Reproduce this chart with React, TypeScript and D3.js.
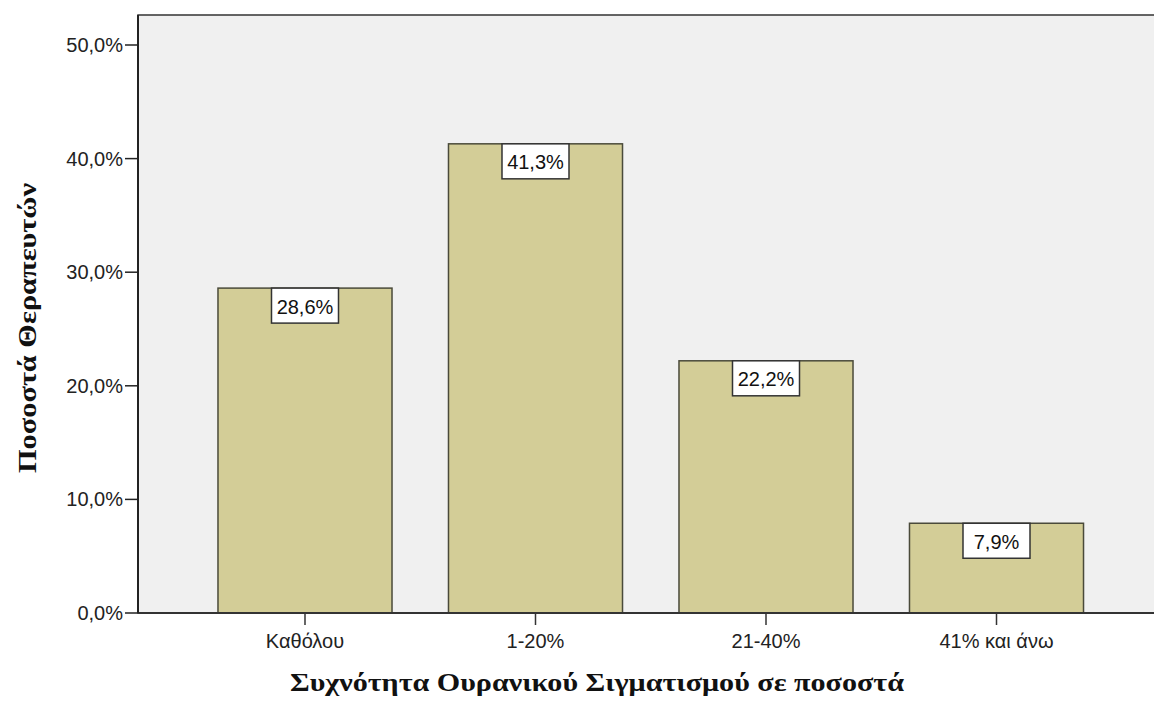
import React from "react";
import * as d3 from "d3";

const categories = ["Καθόλου", "1-20%", "21-40%", "41% και άνω"];
const percentValues = [28.6, 41.3, 22.2, 7.9];
const yTicks = [0, 10, 20, 30, 40, 50];
const xTitle = "Συχνότητα Ουρανικού Σιγματισμού σε ποσοστά";
const yTitle = "Ποσοστά Θεραπευτών";

const W = 1154;
const H = 701;
const plotLeft = 138;
const plotTop = 15;
const plotBottom = 613;
const plotRight = 1163.5;

const fmt = (v: number) => v.toFixed(1).replace(".", ",") + "%";

export default function App() {
  const x = d3
    .scaleBand<string>()
    .domain(categories)
    .range([plotLeft, plotRight])
    .paddingInner(0.245)
    .paddingOuter(0.347);
  const y = d3.scaleLinear().domain([0, 50]).range([plotBottom, 45]);
  const sans = "'Liberation Sans', Arial, sans-serif";
  const serif = "'Liberation Serif', 'Times New Roman', serif";
  const boxW = 67;
  const boxH = 35;

  return (
    <div style={{ position: "absolute", left: 0, top: 0 }}>
      <svg width={W} height={H} style={{ display: "block", background: "#fff" }}>
        <rect x={plotLeft} y={plotTop} width={W - plotLeft + 5} height={plotBottom - plotTop} fill="#f0f0f0" stroke="#333" strokeWidth={1.5} />
        {categories.map((c, i) => {
          const bx = x(c)!;
          const bw = x.bandwidth();
          const top = y(percentValues[i]);
          const cx = bx + bw / 2;
          return (
            <g key={c}>
              <rect x={bx} y={top} width={bw} height={plotBottom - top} fill="#d3cd97" stroke="#4a4a3a" strokeWidth={1.5} />
              <rect x={cx - boxW / 2} y={top} width={boxW} height={boxH} fill="#ffffff" stroke="#333" strokeWidth={1.5} />
              <text x={cx} y={top + 25.5} textAnchor="middle" fontFamily={sans} fontSize={20} fill="#111">
                {fmt(percentValues[i])}
              </text>
              <line x1={cx} x2={cx} y1={plotBottom} y2={plotBottom + 12} stroke="#333" strokeWidth={1.5} />
              <text x={cx} y={plotBottom + 35} textAnchor="middle" fontFamily={sans} fontSize={20} fill="#222">
                {c}
              </text>
            </g>
          );
        })}
        <line x1={plotLeft} x2={W} y1={plotBottom} y2={plotBottom} stroke="#333" strokeWidth={2} />
        <line x1={plotLeft} x2={plotLeft} y1={plotTop} y2={plotBottom} stroke="#222" strokeWidth={2} />
        {yTicks.map((t) => (
          <g key={t}>
            <line x1={plotLeft - 13} x2={plotLeft} y1={y(t)} y2={y(t)} stroke="#222" strokeWidth={1.5} />
            <text x={plotLeft - 15} y={y(t) + 7} textAnchor="end" fontFamily={sans} fontSize={20} fill="#222">
              {fmt(t)}
            </text>
          </g>
        ))}
        <text x={597} y={691} textAnchor="middle" fontFamily={serif} fontWeight="bold" fontSize={26} fill="#111" textLength={614} lengthAdjust="spacingAndGlyphs">
          {xTitle}
        </text>
        <text transform={`translate(36,328) rotate(-90)`} textAnchor="middle" fontFamily={serif} fontWeight="bold" fontSize={26} fill="#111" textLength={290} lengthAdjust="spacingAndGlyphs">
          {yTitle}
        </text>
      </svg>
    </div>
  );
}
